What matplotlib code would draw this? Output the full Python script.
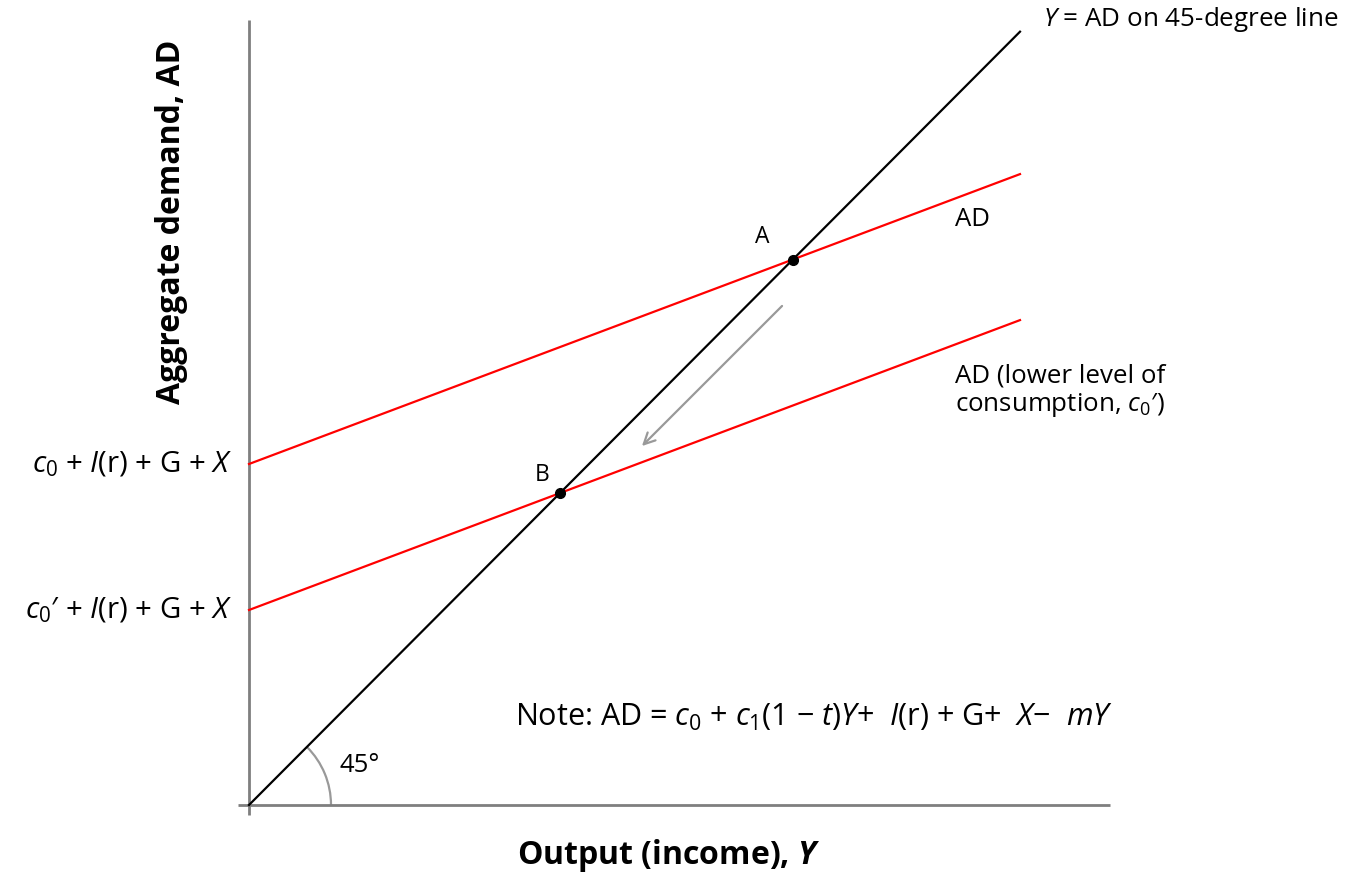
import numpy as np
import matplotlib
matplotlib.use("Agg")
import matplotlib.pyplot as plt
from matplotlib.patches import Arc

FONT = "Open Sans"
plt.rcParams["font.family"] = [FONT, "DejaVu Sans"]
plt.rcParams["mathtext.fontset"] = "custom"
plt.rcParams["mathtext.rm"] = FONT
plt.rcParams["mathtext.it"] = FONT + ":italic"
plt.rcParams["mathtext.bf"] = FONT + ":bold"
plt.rcParams["mathtext.bfit"] = FONT + ":bold:italic"

# model values (units: 1 = 100 px of the reference)
ad_intercepts = [3.41, 1.95]          # c0 + I(r) + G + X, c0' + I(r) + G + X
ad_slope = 0.376                      # c1(1 - t) - m
line_end = 7.71                       # right end of the drawn lines
intercept_labels = [r"$c_0$ + $I$(r) + G + $X$", r"$c_0$′ + $I$(r) + G + $X$"]
point_names = ["A", "B"]
arrow_start = [5.35, 5.01]
arrow_end = [3.91, 3.57]

fig = plt.figure(figsize=(13.62, 8.75), dpi=100)
ax = fig.add_axes([0, 0, 1, 1])
ax.set_xlim(-2.49, 11.13)
ax.set_ylim(-0.70, 8.05)
ax.axis("off")

axis_col = "#7f7f7f"
ax.plot([0, 0], [-0.10, 7.85], color=axis_col, lw=2, solid_capstyle="butt")
ax.plot([-0.11, 8.61], [0, 0], color=axis_col, lw=2, solid_capstyle="butt")

# 45-degree line
xs = np.array([0, line_end])
ax.plot(xs, xs * 1.003, color="black", lw=1.6)

# AD lines and equilibrium points
for c, lab, name in zip(ad_intercepts, intercept_labels, point_names):
    ax.plot(xs, c + ad_slope * xs, color="#ff0000", lw=1.6)
    ax.text(-0.17, c, lab, ha="right", va="center", fontsize=21.2)
    xe = c / (1.003 - ad_slope)
    ax.plot(xe, xe * 1.003, "o", color="black", ms=7)

ax.text(5.13, 5.68, "A", fontsize=16.5, ha="center", va="center")
ax.text(2.93, 3.30, "B", fontsize=16.5, ha="center", va="center")

ax.annotate("", xy=arrow_end, xytext=arrow_start,
            arrowprops=dict(arrowstyle="->,head_length=0.8,head_width=0.4",
                            color="#999999", lw=1.6))

# 45 degree arc
ax.add_patch(Arc((0, 0), 1.64, 1.64, theta1=0, theta2=45, color="#999999", lw=1.6))
ax.text(0.91, 0.40, "45°", fontsize=18.5, ha="left", va="center")

ax.text(7.94, 7.85, r"$Y$ = AD on 45-degree line", fontsize=18.7, ha="left", va="center")
ax.text(7.06, 5.85, "AD", fontsize=18.5, ha="left", va="center")
ax.text(7.06, 4.14, "AD (lower level of\nconsumption, $c_0$′)", fontsize=18.6,
        ha="left", va="center", linespacing=1.15)

ax.text(2.66, 0.88, r"Note: AD = $c_0$ + $c_1$(1 − $t$)$Y$+  $I$(r) + G+  $X$−  $mY$",
        fontsize=22, ha="left", va="center")

ax.text(4.20, -0.50, r"Output (income), $\mathbfit{Y}$", fontsize=23, fontweight="bold",
        ha="center", va="center")
ax.text(-0.77, 5.83, "Aggregate demand, AD", fontsize=23, fontweight="bold",
        ha="center", va="center", rotation=90)

fig.savefig("out.png", dpi=100)
